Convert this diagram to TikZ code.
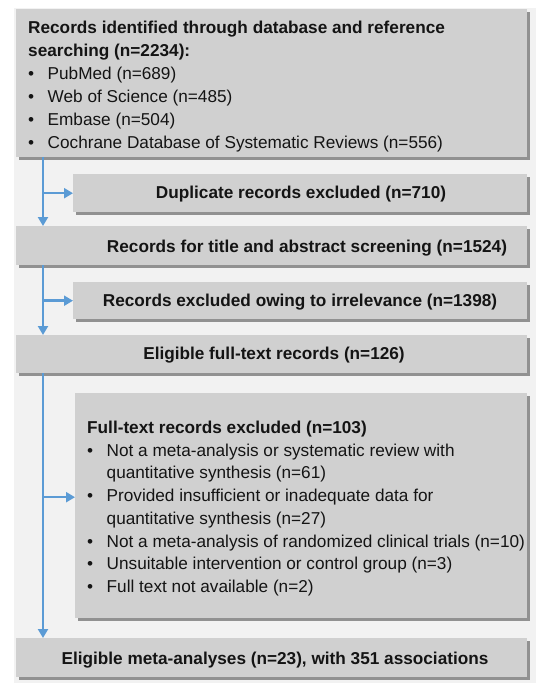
\documentclass[tikz,border=0pt]{standalone}
\usepackage{fontspec}
\setmainfont{Liberation Sans}
\usetikzlibrary{arrows.meta,shadows}
\definecolor{bg}{HTML}{F2F2F2}
\definecolor{boxgray}{HTML}{D0D0D0}
\definecolor{arrowblue}{HTML}{5B9BD5}
\newcommand{\bul}{\makebox[19.5pt][l]{\textbullet}}
\newcommand{\ind}{\hspace*{19.5pt}}
\begin{document}
\begin{tikzpicture}[x=1pt,y=-1pt,
  box/.style={fill=boxgray, draw=none, inner sep=0pt, anchor=north west,
    drop shadow={shadow xshift=2.5pt, shadow yshift=-2.5pt, fill=black, opacity=.4}},
  txt/.style={inner sep=0pt, text=black!92, font=\fontsize{17.2}{23}\selectfont},
  btxt/.style={inner sep=0pt, text=black!92, font=\fontsize{17.2}{23}\selectfont\bfseries, anchor=base},
  arr/.style={draw=arrowblue, line width=2.5pt, -{Triangle[length=9pt,width=10pt]}},
]
\useasboundingbox (0,0) rectangle (553,695);
\fill[bg] (14,8) rectangle (536,683);

% boxes
\node[box, minimum width=511pt, minimum height=148pt] (b1) at (16,9) {};
\node[box, minimum width=454pt, minimum height=38pt] (b2) at (73,174) {};
\node[box, minimum width=511pt, minimum height=39pt] (b3) at (16,226) {};
\node[box, minimum width=454pt, minimum height=37pt] (b4) at (73,282) {};
\node[box, minimum width=511pt, minimum height=38pt] (b5) at (16,335) {};
\node[box, minimum width=452pt, minimum height=225pt] (b6) at (75,393) {};
\node[box, minimum width=511pt, minimum height=39pt] (b7) at (16,638) {};

% texts
\node[txt, anchor=base west] (t1) at (28,33.5) {\parbox[t]{495pt}{\fontsize{17.2}{23}\selectfont
\textbf{Records identified through database and reference}\\
\textbf{searching (n=2234):}\\
\bul PubMed (n=689)\\
\bul Web of Science (n=485)\\
\bul Embase (n=504)\\
\bul Cochrane Database of Systematic Reviews (n=556)}};
\node[btxt] (t2) at (301,198.5) {Duplicate records excluded (n=710)};
\node[btxt] (t3) at (307,252) {Records for title and abstract screening (n=1524)};
\node[btxt] (t4) at (300,306) {Records excluded owing to irrelevance (n=1398)};
\node[btxt] (t5) at (274,359.5) {Eligible full-text records (n=126)};
\node[txt, anchor=base west] (t6) at (87,433.5) {\parbox[t]{440pt}{\fontsize{17.2}{22.7}\selectfont
\textbf{Full-text records excluded (n=103)}\\
\bul Not a meta-analysis or systematic review with\\
\ind quantitative synthesis (n=61)\\
\bul Provided insufficient or inadequate data for\\
\ind quantitative synthesis (n=27)\\
\bul Not a meta-analysis of randomized clinical trials (n=10)\\
\bul Unsuitable intervention or control group (n=3)\\
\bul Full text not available (n=2)}};
\node[btxt] (t7) at (275,664) {Eligible meta-analyses (n=23), with 351 associations};

% connectors
\coordinate (sp) at (43,0);
\coordinate (b6in) at ([yshift=8.5pt]b6.west);
\draw[arr] (sp |- b1.south) -- (sp |- b3.north);
\draw[arr] (sp |- b2.west) -- (b2.west);
\draw[arr] (sp |- b3.south) -- (sp |- b5.north);
\draw[arr] (sp |- b4.west) -- (b4.west);
\draw[arr] (sp |- b5.south) -- (sp |- b7.north);
\draw[arr] (sp |- b6in) -- (b6in);
\end{tikzpicture}
\end{document}
